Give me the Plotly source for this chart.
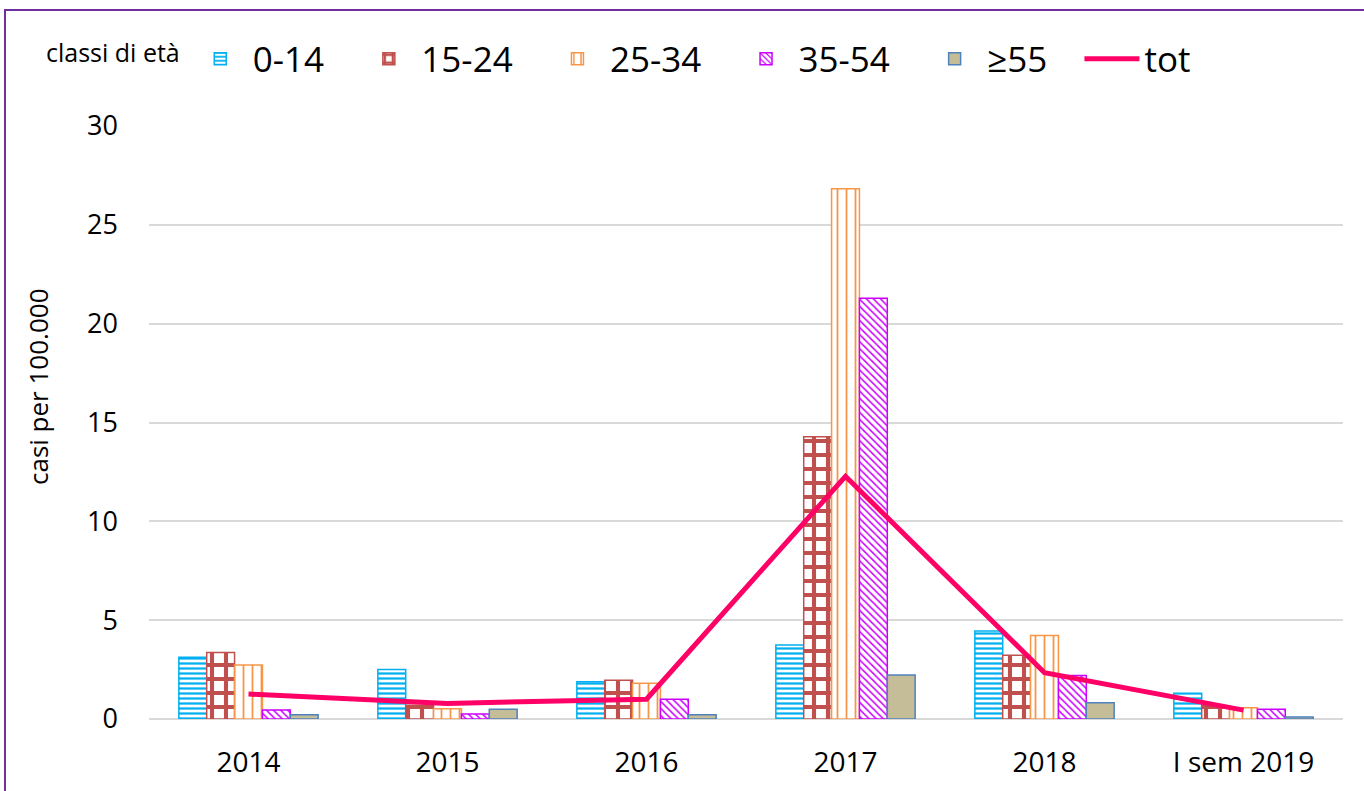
import plotly.graph_objects as go

categories = ["2014", "2015", "2016", "2017", "2018", "I sem 2019"]
age_0_14 = [3.12, 2.51, 1.89, 3.75, 4.45, 1.30]
age_15_24 = [3.37, 0.70, 1.96, 14.28, 3.22, 0.67]
age_25_34 = [2.73, 0.52, 1.81, 26.82, 4.22, 0.57]
age_35_54 = [0.46, 0.25, 1.00, 21.28, 2.20, 0.49]
age_55_plus = [0.22, 0.49, 0.22, 2.22, 0.82, 0.10]
totale = [1.26, 0.79, 1.00, 12.28, 2.34, 0.45]

FONT = "Open Sans"
PAD = "\u00a0\u00a0\u00a0"

series = [
    ("0-14", age_0_14, "#00B0F0", dict(shape="-", size=5, solidity=0.45)),
    ("15-24", age_15_24, "#C0504D", dict(shape="+", size=14, solidity=0.5)),
    ("25-34", age_25_34, "#F79646", dict(shape="|", size=9, solidity=0.2)),
    ("35-54", age_35_54, "#CC00FF", dict(shape="\\", size=5, solidity=0.3)),
]

fig = go.Figure()
for name, vals, col, pat in series:
    fig.add_trace(go.Bar(
        x=categories, y=vals, name=name + PAD,
        marker=dict(color="white", line=dict(color=col, width=1.5),
                    pattern=dict(fgcolor=col, bgcolor="white", fillmode="replace", **pat)),
    ))
fig.add_trace(go.Bar(
    x=categories, y=age_55_plus, name="≥55" + PAD,
    marker=dict(color="#C4BD97", line=dict(color="#4F81BD", width=1.5)),
))
fig.add_trace(go.Scatter(
    x=categories, y=totale, name="tot", mode="lines",
    line=dict(color="#FF0066", width=5),
))

PL, PR, PT, PB = 149, 21, 126, 72
PW = 1364 - PL - PR
PH = 791 - PT - PB

fig.update_layout(
    width=1364, height=791,
    margin=dict(l=PL, r=PR, t=PT, b=PB, autoexpand=False),
    paper_bgcolor="white", plot_bgcolor="white",
    barmode="group", bargap=0.3, bargroupgap=0,
    font=dict(family=FONT, color="black"),
    legend=dict(
        orientation="h", x=(44 - PL) / PW, xanchor="left",
        y=(PH + PT - 59) / PH, yanchor="middle",
        font=dict(size=35, family=FONT), itemwidth=55,
        title=dict(text="classi di età", side="left", font=dict(size=25, family=FONT)),
        traceorder="normal", itemclick=False,
    ),
    showlegend=True,
    shapes=[dict(type="rect", xref="paper", yref="paper",
                 x0=(5 - PL) / PW, x1=(1380 - PL) / PW,
                 y0=-0.2, y1=(PH + PT - 10) / PH,
                 line=dict(color="#7030A0", width=2), layer="below")],
    annotations=[dict(text="casi per 100.000", textangle=-90, showarrow=False,
                      xref="paper", yref="paper",
                      x=(38 - PL) / PW, y=(PH + PT - 387) / PH,
                      xanchor="center", yanchor="middle",
                      font=dict(size=26, family=FONT, color="black"))],
)
fig.update_xaxes(
    type="category", showgrid=False, showline=False, ticks="", automargin=False,
    tickfont=dict(size=28, family=FONT), ticklabelstandoff=24,
)
fig.update_yaxes(
    range=[0, 30], dtick=5, showgrid=True, gridcolor="#D9D9D9", gridwidth=1.5,
    zeroline=True, zerolinecolor="#D9D9D9", zerolinewidth=2, showline=False,
    automargin=False,
    tickfont=dict(size=27, family=FONT), ticklabelstandoff=30,
)
fig.write_html("out.html", config={"displayModeBar": False},
               post_script="document.body.style.margin='0';document.body.style.overflow='hidden';")
